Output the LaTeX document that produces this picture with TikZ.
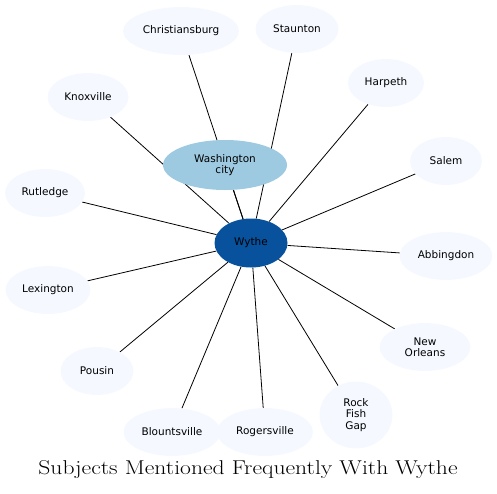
\documentclass[tikz,border=0pt]{standalone}
\usepackage{fontspec}
\setsansfont{DejaVu Sans}
\usetikzlibrary{shapes.geometric,backgrounds}
\definecolor{leafFill}{HTML}{F5F9FF}
\definecolor{hubLight}{HTML}{9ECAE1}
\definecolor{hubDeep}{HTML}{08519C}
\begin{document}
\begin{tikzpicture}[x=1pt,y=-1pt,
    subj/.style={ellipse,fill=leafFill,inner sep=0pt,minimum height=48pt,
                 align=center,font=\sffamily\fontsize{10.5}{11.5}\selectfont},
    link/.style={draw=black,line width=0.8pt}]
  \useasboundingbox (0,0) rectangle (497,493);
  \node[subj,fill=hubDeep,minimum width=73pt,minimum height=49pt] (wythe) at (251,243) {Wythe};
  \node[subj,fill=hubLight,minimum width=124pt,minimum height=50pt] (washington) at (225,165) {Washington\\city};
  \node[subj,minimum width=116pt] (christiansburg) at (181,31) {Christiansburg};
  \node[subj,minimum width=83pt] (staunton) at (297,29) {Staunton};
  \node[subj,minimum width=81pt] (knoxville) at (88,97) {Knoxville};
  \node[subj,minimum width=76pt] (harpeth) at (386,83) {Harpeth};
  \node[subj,minimum width=72pt] (salem) at (446,161) {Salem};
  \node[subj,minimum width=80pt] (rutledge) at (45,193) {Rutledge};
  \node[subj,minimum width=93pt] (abbingdon) at (446,256) {Abbingdon};
  \node[subj,minimum width=85pt] (lexington) at (48,290) {Lexington};
  \node[subj,minimum width=91pt] (neworleans) at (425,347) {New\\Orleans};
  \node[subj,minimum width=73pt] (pousin) at (97,371) {Pousin};
  \node[subj,minimum width=73pt,minimum height=67pt] (rockfish) at (356,415) {Rock\\Fish\\Gap};
  \node[subj,minimum width=97pt] (blountsville) at (172,432) {Blountsville};
  \node[subj,minimum width=96pt] (rogersville) at (265,432) {Rogersville};
  \node[font=\fontsize{20}{24}\selectfont] (title) at (248,470)
       {\scalebox{1.18}[1]{Subjects Mentioned Frequently With Wythe}};

  \begin{scope}[on background layer]
    \foreach \subj in {washington,christiansburg,staunton,knoxville,harpeth,salem,
                       rutledge,abbingdon,lexington,neworleans,pousin,rockfish,
                       blountsville,rogersville}
      \draw[link] (wythe) -- (\subj);
  \end{scope}
\end{tikzpicture}
\end{document}
